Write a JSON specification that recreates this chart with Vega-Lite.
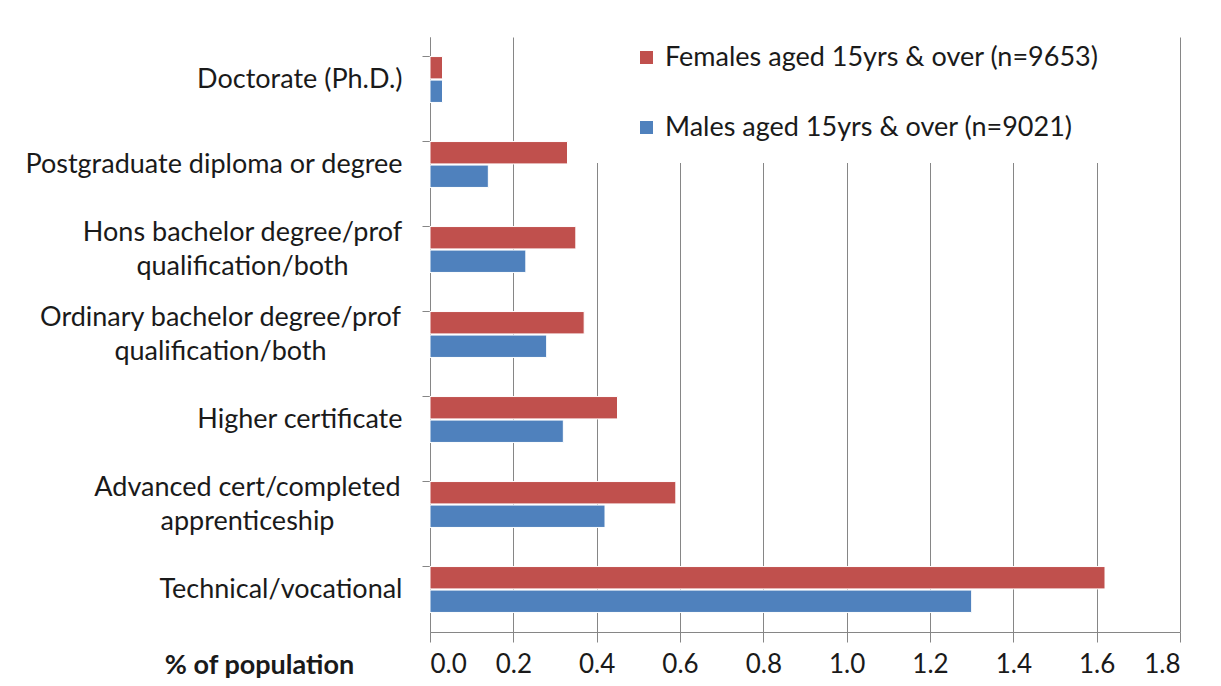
{
  "$schema": "https://vega.github.io/schema/vega-lite/v6.json",
  "width": 750,
  "height": 595,
  "autosize": "none",
  "padding": {"left": 430, "top": 37, "right": 41, "bottom": 54},
  "background": "white",
  "data": {
    "values": [
      {"qual": "Doctorate (Ph.D.)", "group": "Females aged 15yrs & over (n=9653)", "pct": 0.03},
      {"qual": "Doctorate (Ph.D.)", "group": "Males aged 15yrs & over (n=9021)", "pct": 0.03},
      {"qual": "Postgraduate diploma or degree", "group": "Females aged 15yrs & over (n=9653)", "pct": 0.33},
      {"qual": "Postgraduate diploma or degree", "group": "Males aged 15yrs & over (n=9021)", "pct": 0.14},
      {"qual": "Hons bachelor degree/prof|qualification/both", "group": "Females aged 15yrs & over (n=9653)", "pct": 0.35},
      {"qual": "Hons bachelor degree/prof|qualification/both", "group": "Males aged 15yrs & over (n=9021)", "pct": 0.23},
      {"qual": "Ordinary bachelor degree/prof|qualification/both", "group": "Females aged 15yrs & over (n=9653)", "pct": 0.37},
      {"qual": "Ordinary bachelor degree/prof|qualification/both", "group": "Males aged 15yrs & over (n=9021)", "pct": 0.28},
      {"qual": "Higher certificate", "group": "Females aged 15yrs & over (n=9653)", "pct": 0.45},
      {"qual": "Higher certificate", "group": "Males aged 15yrs & over (n=9021)", "pct": 0.32},
      {"qual": "Advanced cert/completed|apprenticeship", "group": "Females aged 15yrs & over (n=9653)", "pct": 0.59},
      {"qual": "Advanced cert/completed|apprenticeship", "group": "Males aged 15yrs & over (n=9021)", "pct": 0.42},
      {"qual": "Technical/vocational", "group": "Females aged 15yrs & over (n=9653)", "pct": 1.62},
      {"qual": "Technical/vocational", "group": "Males aged 15yrs & over (n=9021)", "pct": 1.3}
    ]
  },
  "mark": {"type": "bar", "stroke": "white", "strokeWidth": 1},
  "encoding": {
    "y": {
      "field": "qual",
      "type": "nominal",
      "sort": null,
      "scale": {"paddingInner": 0.46, "paddingOuter": 0.23},
      "axis": {
        "title": null,
        "bandPosition": 0,
        "labelExpr": "split(datum.label, '|')",
        "labelFont": "Lato",
        "labelFontSize": 27,
        "labelColor": "#1a1a1a",
        "labelLineHeight": 34,
        "labelAlign": {"condition": {"test": "indexof(datum.value, '|') >= 0", "value": "center"}, "value": "right"},
        "labelOffset": {"condition": {"test": "indexof(datum.value, '|') >= 0", "value": -17}, "value": 0},
        "labelPadding": {"condition": [
          {"test": "indexof(datum.value, 'Hons') == 0", "value": 180},
          {"test": "indexof(datum.value, 'Ordinary') == 0", "value": 202},
          {"test": "indexof(datum.value, 'Advanced') == 0", "value": 175}
        ], "value": 20},
        "labelLimit": 430,
        "tickSize": 8,
        "tickColor": "#868686",
        "domainColor": "#868686",
        "grid": false
      }
    },
    "yOffset": {
      "field": "group",
      "type": "nominal",
      "sort": ["Females aged 15yrs & over (n=9653)", "Males aged 15yrs & over (n=9021)"],
      "scale": {"paddingInner": 0.05}
    },
    "x": {
      "field": "pct",
      "type": "quantitative",
      "scale": {"domain": [0, 1.8], "nice": false},
      "axis": {
        "values": [0, 0.2, 0.4, 0.6, 0.8, 1.0, 1.2, 1.4, 1.6, 1.8],
        "format": ".1f",
        "title": "% of population",
        "titleFont": "Lato",
        "titleFontSize": 27,
        "titleFontWeight": "bold",
        "titleColor": "#1a1a1a",
        "titleAngle": 0,
        "titleAlign": "center",
        "titleBaseline": "middle",
        "titleX": -171,
        "titleY": 33,
        "labelFont": "Lato",
        "labelFontSize": 26,
        "labelColor": "#1a1a1a",
        "labelPadding": 9,
        "tickSize": 10,
        "tickColor": "#868686",
        "domainColor": "#868686",
        "grid": true,
        "gridColor": "#868686",
        "gridOpacity": 1
      }
    },
    "color": {
      "field": "group",
      "type": "nominal",
      "sort": ["Females aged 15yrs & over (n=9653)", "Males aged 15yrs & over (n=9021)"],
      "scale": {"range": ["#C0504D", "#4F81BD"]},
      "legend": {
        "title": null,
        "orient": "none",
        "legendX": 160,
        "legendY": -15,
        "padding": 22,
        "fillColor": "white",
        "strokeColor": null,
        "symbolType": "square",
        "symbolSize": 169,
        "symbolStrokeWidth": 0,
        "symbolOffset": 21,
        "labelFont": "Lato",
        "labelFontSize": 27,
        "labelColor": "#1a1a1a",
        "labelOffset": 5,
        "labelLimit": 600,
        "rowPadding": 42
      }
    }
  },
  "config": {"view": {"stroke": null}}
}
